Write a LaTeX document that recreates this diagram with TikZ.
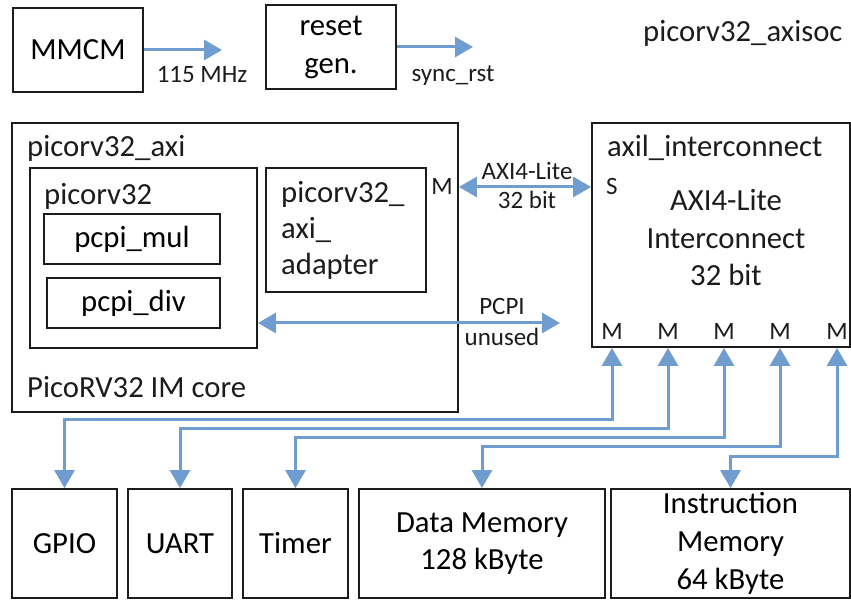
\documentclass[tikz,border=0pt]{standalone}
\usepackage{fontspec}
\setmainfont{Carlito}
\usetikzlibrary{arrows.meta}
\definecolor{linkblue}{RGB}{112,157,207}
\definecolor{edgegray}{RGB}{28,28,28}
\newcommand\bigtxt{\fontsize{30.7}{37.5}\selectfont}
\newcommand\smalltxt{\fontsize{25}{30}\selectfont}
\tikzset{
  box/.style={draw=edgegray, line width=1.8pt, inner sep=0pt, align=center, font=\bigtxt},
  txt/.style={inner sep=0pt, font=\bigtxt, text=edgegray},
  lbl/.style={inner sep=0pt, font=\smalltxt, text=edgegray},
  fwd/.style={draw=linkblue, line width=3pt, -{Triangle[length=18pt,width=20pt]}},
  bidir/.style={draw=linkblue, line width=3pt, {Triangle[length=18pt,width=20pt]}-{Triangle[length=18pt,width=20pt]}},
}
\begin{document}
\begin{tikzpicture}[x=1pt,y=-1pt]
\useasboundingbox (0,0) rectangle (851,601);

% clock and reset
\node[box, minimum width=130pt, minimum height=84pt] (mmcm) at (78,50) {MMCM};
\node[box, minimum width=130pt, minimum height=84pt, font=\fontsize{30.7}{38}\selectfont] (rst) at (331,47) {reset\\gen.};
\coordinate (clkend) at (222,50);
\coordinate (rstend) at (473,47);
\draw[fwd] (mmcm.east) -- (clkend);
\draw[fwd] (rst.east) -- (rstend);
\node[lbl, anchor=base] (clklbl) at (202,83) {115 MHz};
\node[lbl, anchor=base] (rstlbl) at (453,82) {sync\_rst};
\node[txt, anchor=base west] (soc) at (643,42) {picorv32\_axisoc};

% CPU wrapper
\node[box, minimum width=446pt, minimum height=289pt] (axi) at (235,267.5) {};
\node[txt, anchor=base west] (axititle) at (27,157) {picorv32\_axi};
\node[box, minimum width=227pt, minimum height=180pt] (cpu) at (143.5,258) {};
\node[txt, anchor=base west] (cputitle) at (44,205) {picorv32};
\node[box, minimum width=176pt, minimum height=50pt] (mul) at (132,239) {pcpi\_mul};
\node[box, minimum width=173pt, minimum height=50pt] (div) at (133.5,303) {pcpi\_div};
\node[box, minimum width=160pt, minimum height=124pt] (adp) at (346,230) {};
\node[txt, anchor=base west] (adp1) at (281,203) {picorv32\_};
\node[txt, anchor=base west] (adp2) at (281,239) {axi\_};
\node[txt, anchor=base west] (adp3) at (281,275) {adapter};
\node[lbl, anchor=base] (mport) at (442,195) {M};
\node[txt, anchor=base west] (coretitle) at (27,397) {PicoRV32 IM core};

% interconnect
\node[box, minimum width=258pt, minimum height=224pt] (ic) at (721,235) {};
\node[txt, anchor=base west] (ictitle) at (607,157) {axil\_interconnect};
\node[lbl, anchor=base west] (sport) at (606,195) {S};
\node[txt, align=center, font=\fontsize{30.7}{37.5}\selectfont] (icbody) at (726,238) {AXI4-Lite\\Interconnect\\32 bit};
\node[lbl, anchor=base] (m1) at (612,340) {M};
\node[lbl, anchor=base] (m2) at (668,340) {M};
\node[lbl, anchor=base] (m3) at (724,340) {M};
\node[lbl, anchor=base] (m4) at (780,340) {M};
\node[lbl, anchor=base] (m5) at (837,340) {M};

% AXI master link and PCPI
\draw[bidir] (axi.east |- mport) -- (ic.west |- mport);
\node[lbl, anchor=base] (axilbl1) at (527,180) {AXI4-Lite};
\node[lbl, anchor=base] (axilbl2) at (527,209) {32 bit};
\coordinate (pcpiend) at (560,323);
\draw[bidir] (cpu.east |- pcpiend) -- (pcpiend);
\node[lbl, anchor=base] (pcpilbl1) at (502,315) {PCPI};
\node[lbl, anchor=base] (pcpilbl2) at (502,345) {unused};

% peripherals
\node[box, minimum width=105pt, minimum height=109pt] (gpio) at (64.5,543.5) {GPIO};
\node[box, minimum width=104pt, minimum height=109pt] (uart) at (180,543.5) {UART};
\node[box, minimum width=105pt, minimum height=109pt] (timer) at (295.5,543.5) {Timer};
\node[box, minimum width=246pt, minimum height=109pt] (dmem) at (482,543.5) {Data Memory\\128 kByte};
\node[box, minimum width=239pt, minimum height=109pt, font=\fontsize{30.7}{38}\selectfont] (imem) at (730.5,543.5) {Instruction\\Memory\\64 kByte};

% interconnect master ports to peripherals
\draw[bidir] (ic.south -| m1) |- ([yshift=69pt]gpio.north) -- (gpio.north);
\draw[bidir] (ic.south -| m2) |- ([yshift=60pt]uart.north) -- (uart.north);
\draw[bidir] (ic.south -| m3) |- ([yshift=51pt]timer.north) -- (timer.north);
\draw[bidir] (ic.south -| m4) |- ([yshift=42pt]dmem.north) -- (dmem.north);
\draw[bidir] (ic.south -| m5) |- ([yshift=32pt]imem.north) -- (imem.north);
\end{tikzpicture}
\end{document}
